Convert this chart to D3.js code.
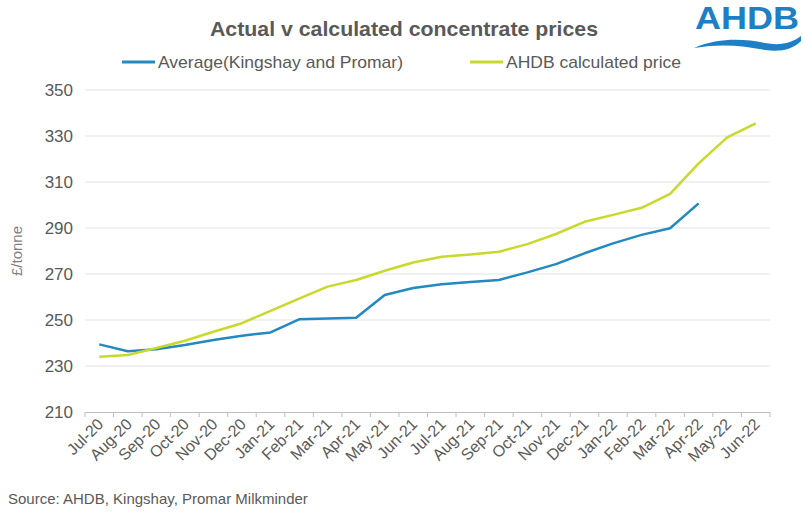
<!DOCTYPE html>
<html>
<head>
<meta charset="utf-8">
<script src="https://cdn.jsdelivr.net/npm/d3@7"></script>
<style>
  body { margin: 0; background: #fff; }
  text { font-family: "Liberation Sans", Arial, sans-serif; }
</style>
</head>
<body>
<div id="chart"></div>
<script>
const months = ["Jul-20", "Aug-20", "Sep-20", "Oct-20", "Nov-20", "Dec-20", "Jan-21", "Feb-21",
    "Mar-21", "Apr-21", "May-21", "Jun-21", "Jul-21", "Aug-21", "Sep-21", "Oct-21", "Nov-21",
    "Dec-21", "Jan-22", "Feb-22", "Mar-22", "Apr-22", "May-22", "Jun-22"];
const average = [239.4, 236.4, 237.3, 239.1, 241.3, 243.2, 244.6, 250.3, 250.7, 251.0, 260.9, 263.9,
    265.5, 266.5, 267.4, 270.7, 274.3, 279.0, 283.3, 287.0, 289.9, 300.7];
const calculated = [234.0, 234.8, 237.8, 241.0, 244.9, 248.6, 254.0, 259.3, 264.5, 267.4, 271.4, 275.0,
    277.5, 278.5, 279.7, 283.0, 287.4, 292.7, 295.7, 298.8, 304.8, 318.1, 329.4, 335.5];
const yTicks = [210, 230, 250, 270, 290, 310, 330, 350];

const width = 803, height = 519;
const margin = {left: 85, right: 33, top: 90, bottom: 107};
const blue = "#2389c0", green = "#c8d92c", grey = "#595959";

const svg = d3.select("#chart").append("svg")
    .attr("width", width)
    .attr("height", height);

let x = d3.scaleBand()
    .domain(months)
    .range([margin.left, width - margin.right]);

let y = d3.scaleLinear()
    .domain([210, 350])
    .range([height - margin.bottom, margin.top]);

// gridlines
svg.append("g")
    .selectAll("line")
    .data(yTicks.slice(1))
    .join("line")
    .attr("x1", margin.left)
    .attr("x2", width - margin.right)
    .attr("y1", d => y(d))
    .attr("y2", d => y(d))
    .attr("stroke", "#e3e3e3");

// y axis labels only
let yAxis = svg.append("g")
    .attr("transform", `translate(${margin.left - 12},0)`)
    .call(d3.axisLeft(y).tickValues(yTicks).tickSize(0).tickPadding(0));
yAxis.select(".domain").remove();
yAxis.selectAll("text")
    .attr("fill", grey)
    .attr("font-size", 17)
    .attr("font-family", "Liberation Sans, Arial, sans-serif");

// x axis
let xAxis = svg.append("g")
    .attr("transform", `translate(0,${y(210)})`)
    .call(d3.axisBottom(x).tickSize(0));
xAxis.select(".domain").attr("stroke", "#bfbfbf");
let edges = months.map(m => x(m)).concat([x(months[months.length - 1]) + x.bandwidth()]);
xAxis.selectAll(".edge")
    .data(edges)
    .join("line")
    .attr("class", "edge")
    .attr("x1", d => d).attr("x2", d => d)
    .attr("y1", 0).attr("y2", 5)
    .attr("stroke", "#bfbfbf");
xAxis.selectAll(".tick text")
    .attr("fill", grey)
    .attr("font-size", 16)
    .attr("font-family", "Liberation Sans, Arial, sans-serif")
    .attr("text-anchor", "end")
    .attr("dy", null)
    .attr("transform", "translate(3,11) rotate(-45)");

// lines
let line = d3.line()
    .x((d, i) => x(months[i]) + x.bandwidth() / 2)
    .y(d => y(d));

svg.append("path")
    .datum(average)
    .attr("fill", "none")
    .attr("stroke", blue)
    .attr("stroke-width", 2.5)
    .attr("stroke-linejoin", "round")
    .attr("d", line);

svg.append("path")
    .datum(calculated)
    .attr("fill", "none")
    .attr("stroke", green)
    .attr("stroke-width", 2.5)
    .attr("stroke-linejoin", "round")
    .attr("d", line);

// title
svg.append("text")
    .attr("x", 404)
    .attr("y", 36)
    .attr("text-anchor", "middle")
    .attr("font-size", 21)
    .attr("font-weight", "bold")
    .attr("textLength", 388)
    .attr("lengthAdjust", "spacingAndGlyphs")
    .attr("fill", grey)
    .text("Actual v calculated concentrate prices");

// legend
let legend = [
    {name: "Average(Kingshay and Promar)", color: blue, x: 122, w: 245},
    {name: "AHDB calculated price", color: green, x: 470, w: 175}
];
let lg = svg.append("g").selectAll("g")
    .data(legend)
    .join("g")
    .attr("transform", d => `translate(${d.x},62)`);
lg.append("line")
    .attr("x1", 0).attr("x2", 33)
    .attr("stroke", d => d.color)
    .attr("stroke-width", 3);
lg.append("text")
    .attr("x", 36)
    .attr("dy", "0.35em")
    .attr("font-size", 17)
    .attr("textLength", d => d.w)
    .attr("lengthAdjust", "spacingAndGlyphs")
    .attr("fill", grey)
    .text(d => d.name);

// y axis title
svg.append("text")
    .attr("transform", "translate(22,251) rotate(-90)")
    .attr("text-anchor", "middle")
    .attr("font-size", 15)
    .attr("fill", "#7f7f7f")
    .text("£/tonne");

// source
svg.append("text")
    .attr("x", 8)
    .attr("y", 504)
    .attr("font-size", 15)
    .attr("fill", grey)
    .text("Source: AHDB, Kingshay, Promar Milkminder");

// logo
let logo = svg.append("g");
logo.append("text")
    .attr("x", 747)
    .attr("y", 29)
    .attr("text-anchor", "middle")
    .attr("font-size", 32)
    .attr("font-weight", "bold")
    .attr("textLength", 104)
    .attr("lengthAdjust", "spacingAndGlyphs")
    .attr("fill", "#1f7fc4")
    .text("AHDB");
logo.append("path")
    .attr("d", "M694,48 C720,37 745,39 765,43 C780,46 792,43 801,36 L801,41 C792,50 780,52 765,50 C745,46 722,43 694,48 Z")
    .attr("fill", "#1f7fc4");
</script>
</body>
</html>
